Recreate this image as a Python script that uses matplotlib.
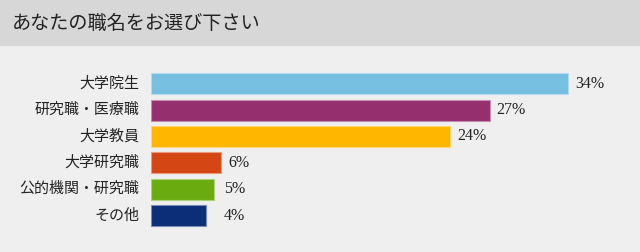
''' Horizontal bar chart: job title survey. '''
import matplotlib
import matplotlib.pyplot as plt
from matplotlib.colors import to_rgb
from matplotlib.patches import Rectangle

matplotlib.use('Agg')

TITLE = 'あなたの職名をお選び下さい'
CATEGORIES = ['大学院生', '研究職・医療職', '大学教員', '大学研究職', '公的機関・研究職', 'その他']
BAR_VALUES = [34.0, 27.6, 24.4, 5.7, 5.1, 4.5]
PCT_LABELS = ['34%', '27%', '24%', '6%', '5%', '4%']
COLORS = ['#77c0e1', '#952f6e', '#ffb600', '#d54615', '#6aac0f', '#0c2d78']

W, H = 640, 252
BODY_BG = '#efefef'
HEAD_BG = '#d7d7d7'
JP_FONT = ['Noto Sans CJK JP', 'DejaVu Sans']


def lighten(color, amount=0.45):
    r, g, b = to_rgb(color)
    return (r + (1 - r) * amount, g + (1 - g) * amount, b + (1 - b) * amount)


fig = plt.figure(figsize=(W / 100, H / 100), dpi=100, facecolor=BODY_BG)

# header band
fig.patches.append(Rectangle((0, 1 - 46 / H), 1, 46 / H, transform=fig.transFigure,
                             facecolor=HEAD_BG, edgecolor='none', zorder=0))
fig.text(12 / W, 1 - 23 / H, TITLE, family=JP_FONT, fontsize=13.8,
         color='#222222', va='center', ha='left')

# bar area in pixels
left, right = 151, 640
pitch = 26.35
top = 83.8 - pitch / 2
bottom = top + pitch * len(CATEGORIES)
ax = fig.add_axes([left / W, 1 - bottom / H, (right - left) / W, (bottom - top) / H])
ax.set_facecolor('none')
px_per_unit = 417 / 34.0
ax.set_xlim(0, (right - left) / px_per_unit)
ax.set_ylim(len(CATEGORIES) - 0.5, -0.5)
ax.axis('off')

ypos = list(range(len(CATEGORIES)))
ax.barh(ypos, BAR_VALUES, height=0.8, color=COLORS,
        edgecolor=[lighten(c) for c in COLORS], linewidth=0.8)

min_label_x = (224 - left) / px_per_unit
for y, v, lab, cat in zip(ypos, BAR_VALUES, PCT_LABELS, CATEGORIES):
    lx = max(v + 7 / px_per_unit, min_label_x)
    ax.text(lx, y, lab, family='Liberation Serif', fontsize=11.5,
            color='#222222', va='center', ha='left')
    ax.text(-12 / px_per_unit, y, cat, family=JP_FONT, fontsize=10.8,
            color='#222222', va='center', ha='right', clip_on=False)

fig.savefig('out.png', dpi=100, facecolor=BODY_BG)
